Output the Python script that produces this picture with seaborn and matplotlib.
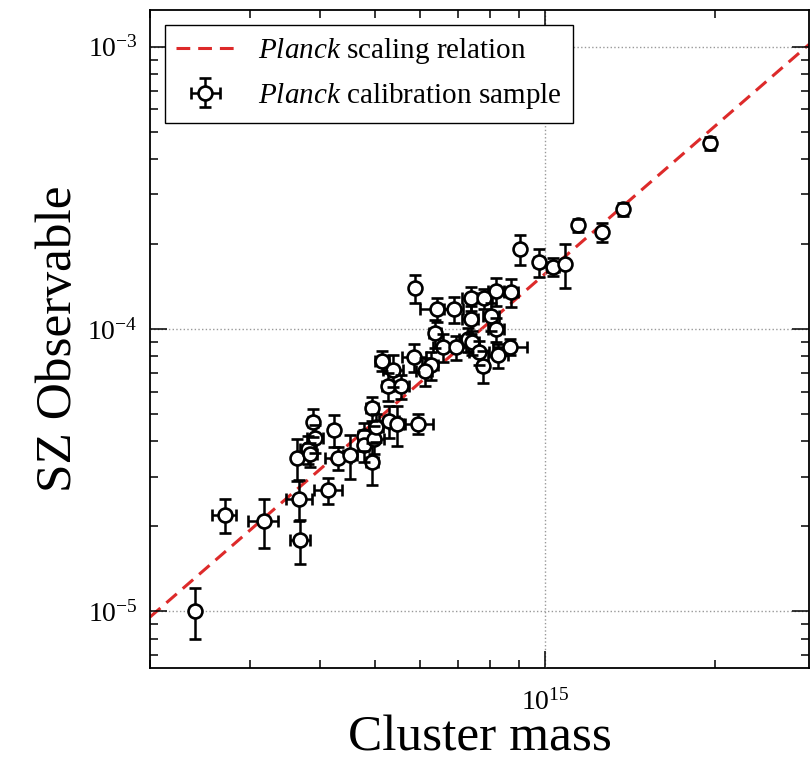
import numpy as np
import matplotlib
matplotlib.use("Agg")
import matplotlib.pyplot as plt
from matplotlib.ticker import NullFormatter, LogLocator
import seaborn as sns

# ---------------- data ----------------
# cluster masses in units of 1e14 Msun
mass = [2.40, 2.71, 3.18, 3.67, 3.69, 4.13, 3.64, 3.81, 3.84, 3.89,
        3.92, 4.24, 4.30, 4.52, 4.78, 4.78, 4.98, 4.94, 5.02, 4.94,
        5.29, 5.47, 5.97, 5.27, 5.56, 5.14, 5.38, 5.86, 6.27, 6.12,
        6.38, 6.59, 5.88, 6.43, 6.89, 7.38, 7.81, 8.20, 8.71, 7.38,
        8.03, 8.20, 7.29, 7.41, 6.97, 7.65, 8.26, 8.68, 7.78, 9.04,
        9.76, 10.33, 10.84, 11.43, 12.60, 13.72, 19.60]
mass_err = [0.04, 0.132, 0.193, 0.193, 0.149, 0.234, 0.06, 0.123, 0.109, 0.079,
            0.127, 0.086, 0.227, 0.128, 0.116, 0.097, 0.202, 0.12, 0.142, 0.12,
            0.214, 0.177, 0.363, 0.128, 0.18, 0.146, 0.218, 0.285, 0.203, 0.198,
            0.155, 0.267, 0.095, 0.417, 0.279, 0.239, 0.253, 0.266, 0.244, 0.239,
            0.26, 0.266, 0.236, 0.24, 0.282, 0.31, 0.335, 0.598, 0.158, 0.146,
            0.198, 0.251, 0.176, 0.139, 0.153, 0.167, 0.238]
# SZ observable in units of 1e-4
sz = [0.1005, 0.2196, 0.2091, 0.2502, 0.1791, 0.2692, 0.3495, 0.376, 0.361, 0.4686,
      0.4113, 0.439, 0.3495, 0.3581, 0.418, 0.3885, 0.408, 0.3382, 0.4498, 0.5252,
      0.4724, 0.461, 0.461, 0.6285, 0.6285, 0.7705, 0.7157, 0.7959, 0.7455, 0.7101,
      0.968, 0.8636, 1.397, 1.177, 1.177, 1.287, 1.287, 1.363, 1.352, 1.085,
      1.112, 1.0, 0.922, 0.899, 0.8636, 0.829, 0.809, 0.8636, 0.740, 1.92,
      1.726, 1.658, 1.698, 2.334, 2.204, 2.659, 4.554]
sz_err = [0.0205, 0.0304, 0.041, 0.0408, 0.0321, 0.0285, 0.0598, 0.043, 0.0353, 0.0535,
          0.047, 0.057, 0.034, 0.064, 0.048, 0.051, 0.0465, 0.058, 0.051, 0.051,
          0.061, 0.075, 0.0376, 0.0717, 0.0615, 0.0628, 0.093, 0.091, 0.085, 0.081,
          0.11, 0.098, 0.159, 0.115, 0.125, 0.126, 0.105, 0.155, 0.154, 0.124,
          0.127, 0.098, 0.09, 0.088, 0.085, 0.081, 0.079, 0.056, 0.096, 0.235,
          0.197, 0.122, 0.304, 0.124, 0.162, 0.14, 0.24]

MASS_UNIT = 1e14
SZ_UNIT = 1e-4

# Planck scaling relation: Y = norm * (M / pivot)^slope
rel_pivot = 6e14
rel_norm = 10 ** -4.19
rel_slope = 1.74

xlim = (2.0e14, 2.93e15)
ylim = (6.3e-6, 1.35e-3)

# ---------------- styling ----------------
sns.set_style("ticks")
plt.rcParams["font.family"] = ["Liberation Serif", "DejaVu Serif"]
plt.rcParams["mathtext.fontset"] = "custom"
plt.rcParams["mathtext.rm"] = "Liberation Serif"
plt.rcParams["mathtext.it"] = "Liberation Serif:italic"
plt.rcParams["mathtext.bf"] = "Liberation Serif:bold"
plt.rcParams["text.color"] = "black"
plt.rcParams["axes.labelcolor"] = "black"
plt.rcParams["xtick.color"] = "black"
plt.rcParams["ytick.color"] = "black"

fig = plt.figure(figsize=(8.1, 7.67), dpi=100)
ax = fig.add_axes([150 / 810, 99 / 767, 659 / 810, 658 / 767])

m = np.array(mass) * MASS_UNIT
me = np.array(mass_err) * MASS_UNIT
y = np.array(sz) * SZ_UNIT
ye = np.array(sz_err) * SZ_UNIT

line_m = np.array(xlim)
line_y = rel_norm * (line_m / rel_pivot) ** rel_slope

sns.lineplot(x=line_m, y=line_y, ax=ax, color="#dd2a2a", linestyle="--",
             linewidth=2.2, zorder=2, legend=False)
ax.lines[-1].set_dashes((4.5, 2.6))
line_handle = ax.lines[-1]

eb = ax.errorbar(m, y, xerr=me, yerr=ye, fmt="o", mfc="white", mec="black",
                 mew=1.9, ms=10, ecolor="black", elinewidth=1.8, capsize=4.5,
                 capthick=1.8, zorder=3)
# horizontal caps of the y error bars drawn above the open circles
for cap in eb[1]:
    if cap.get_marker() == "_":
        cap.set_zorder(4)

ax.set_xscale("log")
ax.set_yscale("log")
ax.set_xlim(*xlim)
ax.set_ylim(*ylim)

ax.xaxis.set_minor_locator(LogLocator(base=10, subs=np.arange(2, 10), numticks=20))
ax.yaxis.set_minor_locator(LogLocator(base=10, subs=np.arange(2, 10), numticks=20))
ax.xaxis.set_minor_formatter(NullFormatter())
ax.yaxis.set_minor_formatter(NullFormatter())

ax.tick_params(which="both", direction="in", top=True, right=True,
               labelsize=20, width=1.1, color="black", labelcolor="black")
ax.tick_params(axis="x", which="major", length=12, pad=15)
ax.tick_params(axis="y", which="major", length=12, pad=9)
ax.tick_params(which="minor", length=6)
for s in ax.spines.values():
    s.set_linewidth(1.3)
    s.set_color("black")

ax.grid(True, which="major", linestyle=":", color="#999999", linewidth=1.0)
ax.set_axisbelow(False)

ax.set_xlabel("Cluster mass", fontsize=37, labelpad=0, color="black")
ax.set_ylabel("SZ Observable", fontsize=37, labelpad=4, color="black")

leg = ax.legend([line_handle, eb],
                [r"$\it{Planck}$ scaling relation", r"$\it{Planck}$ calibration sample"],
                loc="upper left", fontsize=21, frameon=True, fancybox=False,
                framealpha=1, edgecolor="black", handlelength=2.0)
leg.get_frame().set_linewidth(1.0)
for t in leg.get_texts():
    t.set_color("black")

fig.savefig("out.png", dpi=100)
